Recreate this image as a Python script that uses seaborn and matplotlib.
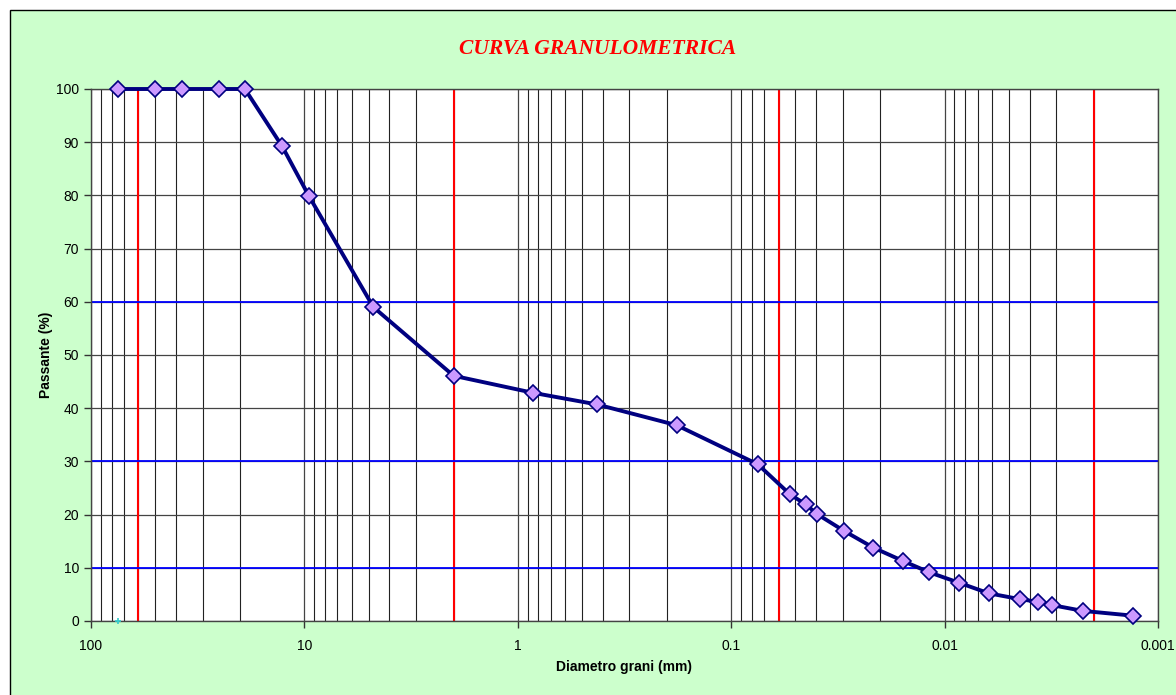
import matplotlib
matplotlib.use("Agg")
import matplotlib.pyplot as plt
import matplotlib.ticker as mticker
from matplotlib.patches import Rectangle
import numpy as np
import pandas as pd
import seaborn as sns

# ---- data ----
diametro_mm = [75, 50, 37.5, 25, 19, 12.7, 9.5, 4.75, 2.0, 0.85, 0.425, 0.18,
               0.075, 0.053, 0.0447, 0.0396, 0.0295, 0.0216, 0.0157, 0.0118,
               0.00857, 0.0062, 0.00443, 0.00364, 0.00315, 0.00225, 0.00131]
passante = [100, 100, 100, 100, 100, 89.2, 79.8, 59.0, 46.1, 42.9, 40.7, 36.8,
            29.45, 23.8, 21.9, 20.1, 16.9, 13.8, 11.3, 9.15,
            7.2, 5.2, 4.1, 3.6, 3.0, 1.9, 1.0]
limiti_classi = [60, 2, 0.06, 0.002]
linee_passante = [10, 30, 60]
x_ticks = [100, 10, 1, 0.1, 0.01, 0.001]
x_tick_labels = ["100", "10", "1", "0.1", "0.01", "0.001"]
y_ticks = [0, 10, 20, 30, 40, 50, 60, 70, 80, 90, 100]
serie2_x = [75]
serie2_y = [0]

df = pd.DataFrame({"d": diametro_mm, "p": passante})

plt.rcParams["font.family"] = ["Liberation Sans", "DejaVu Sans"]

W, H = 1176, 695
fig = plt.figure(figsize=(W / 100, H / 100), dpi=100, facecolor="white")
bg = Rectangle((10 / W, -0.01), 1.0, 1 - 10 / H + 0.01,
               transform=fig.transFigure, facecolor="#CCFFCC",
               edgecolor="black", linewidth=1.0, zorder=-10)
fig.patches.append(bg)

ax = fig.add_axes([91 / W, 1 - 621 / H, (1158 - 91) / W, (621 - 89) / H])
ax.set_zorder(1)
ax.set_facecolor("white")
ax.set_xscale("log")
ax.set_xlim(100, 0.001)
ax.set_ylim(0, 100)

# grid
ax.xaxis.set_major_locator(mticker.FixedLocator(x_ticks))
ax.xaxis.set_major_formatter(mticker.FixedFormatter(x_tick_labels))
ax.xaxis.set_minor_locator(mticker.LogLocator(base=10, subs=np.arange(2, 10), numticks=50))
ax.xaxis.set_minor_formatter(mticker.NullFormatter())
ax.set_yticks(y_ticks)
ax.grid(True, which="major", axis="x", color="#444444", linewidth=0.9, zorder=1)
ax.grid(True, which="minor", axis="x", color="#222222", linewidth=0.8, zorder=1)
ax.grid(True, which="major", axis="y", color="#444444", linewidth=0.9, zorder=1)
ax.set_axisbelow(True)

for v in limiti_classi:
    ax.axvline(v, color="#FF0000", linewidth=1.5, zorder=2)
for v in linee_passante:
    ax.axhline(v, color="#0000FF", linewidth=1.3, zorder=2)

sns.lineplot(data=df, x="d", y="p", ax=ax, sort=False, color="#000080",
             linewidth=2.8, marker="D", markersize=8.5,
             markerfacecolor="#CC99FF", markeredgecolor="#000080",
             markeredgewidth=1.2, zorder=5, clip_on=False)
sns.scatterplot(x=serie2_x, y=serie2_y, ax=ax, marker="+", color="#33CCCC",
                s=25, linewidth=1.2, zorder=6, clip_on=False)

for s in ax.spines.values():
    s.set_color("#444444")
    s.set_linewidth(1.0)

ax.tick_params(axis="both", which="major", direction="out", length=5,
               width=1, color="#333333", labelsize=10, labelcolor="black")
ax.tick_params(axis="x", which="minor", length=0)
ax.tick_params(axis="x", which="major", pad=8)

ax.set_xlabel("Diametro grani (mm)", fontsize=10, fontweight="bold", labelpad=5)
ax.set_ylabel("Passante (%)", fontsize=10, fontweight="bold", labelpad=2)

fig.text(598 / W, 1 - 49 / H, "CURVA GRANULOMETRICA", color="#FF0000",
         fontsize=15.5, fontstyle="italic", fontweight="bold",
         family=["Liberation Serif", "DejaVu Serif"],
         ha="center", va="center")

fig.savefig("out.png", dpi=100, facecolor=fig.get_facecolor())
